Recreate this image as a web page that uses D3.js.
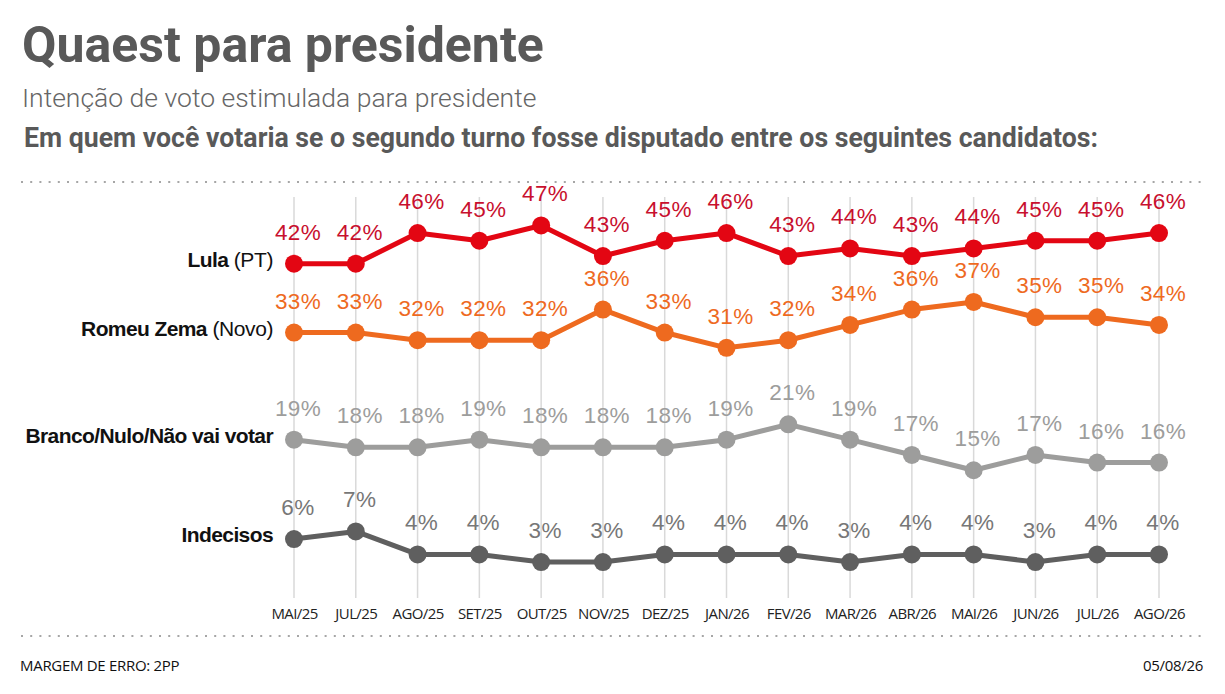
<!DOCTYPE html>
<html>
<head>
<meta charset="utf-8">
<script src="https://cdn.jsdelivr.net/npm/d3@7"></script>
<style>
  body { margin: 0; background: #fff; }
  svg { display: block; }
</style>
</head>
<body>
<script>
const width = 1225;
const height = 694;

// Data
const months = ["MAI/25", "JUL/25", "AGO/25", "SET/25", "OUT/25", "NOV/25", "DEZ/25",
  "JAN/26", "FEV/26", "MAR/26", "ABR/26", "MAI/26", "JUN/26", "JUL/26", "AGO/26"];
const lula = [42, 42, 46, 45, 47, 43, 45, 46, 43, 44, 43, 44, 45, 45, 46];
const zema = [33, 33, 32, 32, 32, 36, 33, 31, 32, 34, 36, 37, 35, 35, 34];
const branco = [19, 18, 18, 19, 18, 18, 18, 19, 21, 19, 17, 15, 17, 16, 16];
const indecisos = [6, 7, 4, 4, 3, 3, 4, 4, 4, 3, 4, 4, 3, 4, 4];

const series = [
  { name: "Lula", party: "(PT)", values: lula, line: "#e30613", label: "#c8102e" },
  { name: "Romeu Zema", party: "(Novo)", values: zema, line: "#ee6a1f", label: "#ee6a1f" },
  { name: "Branco/Nulo/Não vai votar", party: "", values: branco, line: "#9d9d9c", label: "#9d9d9c" },
  { name: "Indecisos", party: "", values: indecisos, line: "#5f5f5f", label: "#777777" }
];

const svg = d3.select("body").append("svg")
  .attr("width", width)
  .attr("height", height);

// Header
svg.append("text")
  .attr("x", 22).attr("y", 62)
  .attr("font-family", "Roboto").attr("font-weight", 700)
  .attr("font-size", 50).attr("fill", "#595959")
  .text("Quaest para presidente");

svg.append("text")
  .attr("x", 22).attr("y", 107)
  .attr("font-family", "Roboto").attr("font-weight", 300)
  .attr("font-size", 26.5).attr("fill", "#666")
  .text("Intenção de voto estimulada para presidente");

svg.append("text")
  .attr("x", 24).attr("y", 147)
  .attr("font-family", "Roboto").attr("font-weight", 700)
  .attr("font-size", 28).attr("fill", "#595959")
  .attr("textLength", 1074).attr("lengthAdjust", "spacingAndGlyphs")
  .text("Em quem você votaria se o segundo turno fosse disputado entre os seguintes candidatos:");

// Dotted separators
[182, 636].forEach(y => {
  svg.append("line")
    .attr("x1", 21).attr("x2", 1204)
    .attr("y1", y).attr("y2", y)
    .attr("stroke", "#a6a6a6").attr("stroke-width", 2)
    .attr("stroke-dasharray", "2 7.2");
});

// Scales
const x = d3.scalePoint().domain(months).range([294, 1159]);
const y = d3.scaleLinear().domain([0, 50]).range([585, 202.5]);

// Vertical gridlines
svg.append("g").selectAll("line")
  .data(months)
  .join("line")
  .attr("x1", d => x(d)).attr("x2", d => x(d))
  .attr("y1", 197).attr("y2", 598)
  .attr("stroke", "#d9d9d9").attr("stroke-width", 1.5);

// Month axis
const xAxis = svg.append("g")
  .attr("transform", "translate(0,614)")
  .call(d3.axisBottom(x).tickSize(0).tickPadding(0));
xAxis.select(".domain").remove();
xAxis.selectAll("text")
  .attr("font-family", "Open Sans").attr("font-size", 15)
  .attr("fill", "#222").attr("dy", "0.35em")
  .attr("letter-spacing", -0.6);

const line = d3.line()
  .x((d, i) => x(months[i]))
  .y(d => y(d));

series.forEach(s => {
  const g = svg.append("g");
  g.append("path")
    .datum(s.values)
    .attr("fill", "none")
    .attr("stroke", s.line)
    .attr("stroke-width", 5)
    .attr("stroke-linejoin", "round")
    .attr("d", line);

  g.selectAll("circle")
    .data(s.values)
    .join("circle")
    .attr("cx", (d, i) => x(months[i]))
    .attr("cy", d => y(d))
    .attr("r", 9)
    .attr("fill", s.line);

  g.selectAll("text.val")
    .data(s.values)
    .join("text")
    .attr("class", "val")
    .attr("x", (d, i) => x(months[i]) + 4)
    .attr("y", d => y(d) - 24)
    .attr("text-anchor", "middle")
    .attr("font-family", "Liberation Sans")
    .attr("font-size", 22.5)
    .attr("letter-spacing", 0.4)
    .attr("fill", s.label)
    .text(d => d + "%");

  // Series name on the left
  const lbl = g.append("text")
    .attr("x", 273)
    .attr("y", y(s.values[0]) + 3)
    .attr("text-anchor", "end")
    .attr("font-family", "Liberation Sans")
    .attr("font-size", 21)
    .attr("fill", "#111");
  lbl.append("tspan")
    .attr("font-weight", 700)
    .attr("letter-spacing", -0.6)
    .text(s.name);
  if (s.party) {
    lbl.append("tspan")
      .attr("font-weight", 400)
      .attr("letter-spacing", -0.4)
      .text(" " + s.party);
  }
});

// Footer
svg.append("text")
  .attr("x", 20).attr("y", 671)
  .attr("font-family", "Open Sans").attr("font-size", 15)
  .attr("fill", "#111").attr("letter-spacing", -0.3)
  .text("MARGEM DE ERRO: 2PP");

svg.append("text")
  .attr("x", 1203).attr("y", 671)
  .attr("text-anchor", "end")
  .attr("font-family", "Open Sans").attr("font-size", 15)
  .attr("fill", "#111").attr("letter-spacing", -0.3)
  .text("05/08/26");
</script>
</body>
</html>
